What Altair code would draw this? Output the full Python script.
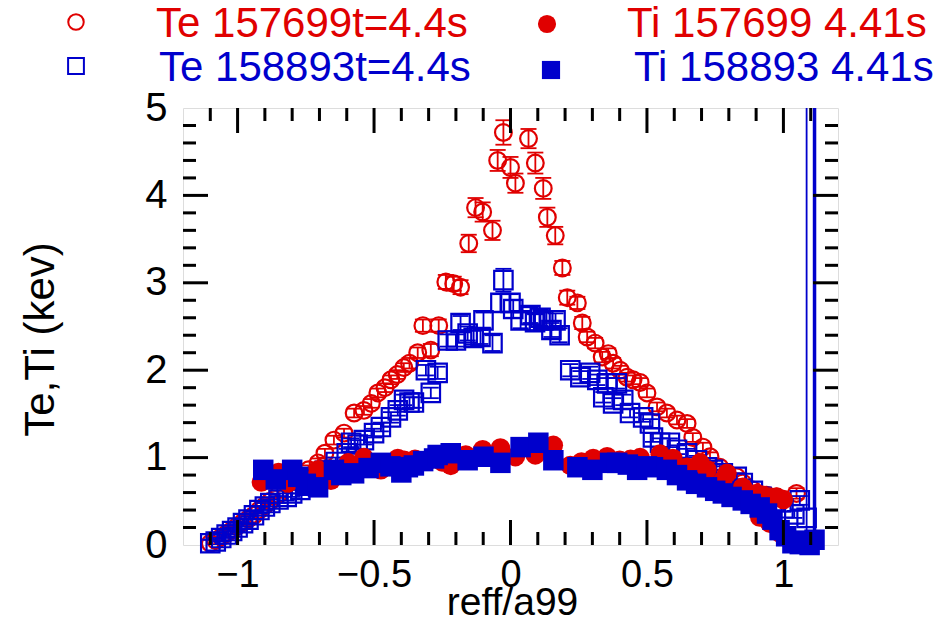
import altair as alt
import pandas as pd

# ---------------- data ----------------
# Te 157699 t=4.4s  (red open circles, with error bars)
te1_x = [-1.10, -1.08, -1.06, -1.04, -1.02, -1.00, -0.98, -0.96, -0.94, -0.92,
         -0.90, -0.88, -0.85, -0.82, -0.78, -0.74, -0.705, -0.68, -0.647, -0.61,
         -0.573, -0.537, -0.51, -0.486, -0.46, -0.438, -0.415, -0.391, -0.37, -0.34,
         -0.321, -0.292, -0.263, -0.237, -0.208, -0.183, -0.153, -0.128, -0.102, -0.066,
         -0.047, -0.026, 0.000, 0.018, 0.066, 0.091, 0.120, 0.135, 0.164, 0.190,
         0.208, 0.245, 0.263, 0.281, 0.310, 0.336, 0.358, 0.376, 0.402, 0.427,
         0.449, 0.475, 0.500, 0.537, 0.573, 0.610, 0.647, 0.668, 0.705, 0.731,
         0.767, 0.793, 0.829, 0.851, 0.888, 0.939, 0.975, 1.048]
te1_y = [0.02, 0.05, 0.09, 0.13, 0.17, 0.22, 0.26, 0.30, 0.34, 0.40,
         0.45, 0.50, 0.58, 0.70, 0.79, 0.86, 0.94, 1.05, 1.20, 1.28,
         1.51, 1.54, 1.62, 1.74, 1.80, 1.89, 1.95, 2.03, 2.08, 2.20,
         2.51, 2.23, 2.51, 3.01, 2.99, 2.95, 3.45, 3.86, 3.81, 3.60,
         4.40, 4.72, 4.32, 4.14, 4.65, 4.37, 4.08, 3.75, 3.54, 3.17,
         2.83, 2.77, 2.54, 2.38, 2.31, 2.15, 2.19, 2.08, 2.00, 1.92,
         1.89, 1.86, 1.74, 1.58, 1.51, 1.43, 1.39, 1.23, 1.12, 1.01,
         0.89, 0.82, 0.78, 0.71, 0.63, 0.57, 0.55, 0.59]
te1_err = [0.04, 0.04, 0.04, 0.04, 0.04, 0.04, 0.04, 0.04, 0.04, 0.04,
           0.04, 0.04, 0.04, 0.05, 0.05, 0.05, 0.05, 0.05, 0.05, 0.05,
           0.05, 0.05, 0.05, 0.05, 0.05, 0.05, 0.05, 0.05, 0.06, 0.06,
           0.07, 0.07, 0.07, 0.08, 0.08, 0.08, 0.10, 0.11, 0.11, 0.11,
           0.12, 0.14, 0.12, 0.11, 0.11, 0.12, 0.12, 0.11, 0.10, 0.08,
           0.08, 0.07, 0.07, 0.06, 0.06, 0.06, 0.06, 0.06, 0.05, 0.05,
           0.05, 0.05, 0.05, 0.05, 0.05, 0.05, 0.05, 0.05, 0.05, 0.05,
           0.04, 0.04, 0.04, 0.04, 0.04, 0.04, 0.04, 0.06]

# Te 158893 t=4.4s  (blue open squares, with error bars)
te2_x = [-1.10, -1.08, -1.06, -1.04, -1.02, -1.00, -0.98, -0.96, -0.94, -0.92,
         -0.90, -0.88, -0.85, -0.82, -0.80, -0.77, -0.75, -0.72, -0.68, -0.64,
         -0.60, -0.584, -0.56, -0.537, -0.50, -0.475, -0.438, -0.413, -0.39, -0.37,
         -0.354, -0.31, -0.292, -0.267, -0.23, -0.20, -0.183, -0.157, -0.135, -0.11,
         -0.099, -0.066, -0.037, -0.026, 0.000, 0.010, 0.037, 0.073, 0.090, 0.110,
         0.120, 0.150, 0.165, 0.180, 0.219, 0.256, 0.292, 0.318, 0.340, 0.354,
         0.376, 0.390, 0.413, 0.438, 0.486, 0.511, 0.522, 0.548, 0.584, 0.610,
         0.647, 0.683, 0.720, 0.742, 0.778, 0.829, 0.851, 0.888, 0.920, 0.960,
         1.000, 1.040, 1.060, 1.085]
te2_y = [0.02, 0.04, 0.08, 0.12, 0.16, 0.20, 0.25, 0.29, 0.34, 0.40,
         0.44, 0.48, 0.52, 0.55, 0.59, 0.63, 0.68, 0.75, 0.85, 0.95,
         1.05, 1.17, 1.15, 1.20, 1.28, 1.35, 1.46, 1.54, 1.66, 1.63,
         1.63, 2.00, 1.74, 1.97, 2.34, 2.34, 2.54, 2.42, 2.37, 2.38,
         2.57, 2.31, 2.77, 3.03, 2.77, 2.70, 2.57, 2.63, 2.55, 2.60,
         2.57, 2.46, 2.57, 2.40, 2.00, 1.92, 1.97, 1.89, 1.69, 1.85,
         1.62, 1.85, 1.66, 1.51, 1.46, 1.39, 1.23, 1.17, 1.17, 1.09,
         1.05, 0.97, 0.89, 0.86, 0.82, 0.78, 0.71, 0.62, 0.55, 0.50,
         0.42, 0.35, 0.51, 0.31]
te2_err = [0.04, 0.04, 0.04, 0.04, 0.04, 0.04, 0.04, 0.04, 0.04, 0.04,
           0.04, 0.04, 0.04, 0.04, 0.04, 0.04, 0.04, 0.04, 0.05, 0.05,
           0.05, 0.05, 0.05, 0.05, 0.05, 0.05, 0.06, 0.06, 0.06, 0.06,
           0.06, 0.06, 0.06, 0.07, 0.07, 0.07, 0.08, 0.08, 0.08, 0.08,
           0.09, 0.09, 0.10, 0.13, 0.10, 0.10, 0.09, 0.09, 0.09, 0.09,
           0.09, 0.08, 0.08, 0.08, 0.07, 0.07, 0.07, 0.06, 0.06, 0.06,
           0.06, 0.06, 0.06, 0.05, 0.05, 0.05, 0.05, 0.05, 0.05, 0.05,
           0.05, 0.05, 0.04, 0.04, 0.04, 0.04, 0.04, 0.04, 0.04, 0.04,
           0.04, 0.04, 0.05, 6.00]

# Ti 157699 4.41s  (red filled circles)
ti1_x = [-0.913, -0.85, -0.815, -0.77, -0.705, -0.658, -0.595, -0.537, -0.475, -0.413,
         -0.39, -0.35, -0.30, -0.25, -0.219, -0.164, -0.102, -0.037, 0.018, 0.091,
         0.157, 0.219, 0.260, 0.303, 0.354, 0.40, 0.44, 0.475, 0.548, 0.595,
         0.647, 0.694, 0.72, 0.778, 0.793, 0.851, 0.902, 0.924, 0.95, 0.975,
         1.00, 0.913, 0.95, 0.986]
ti1_y = [0.72, 0.83, 0.71, 0.78, 0.86, 0.74, 0.94, 1.00, 0.86, 0.99,
         0.97, 0.98, 0.97, 0.95, 0.91, 1.03, 1.09, 1.11, 1.01, 1.03,
         1.14, 0.91, 0.95, 0.99, 1.01, 0.97, 0.98, 1.00, 1.04, 0.99,
         0.89, 0.94, 0.86, 0.74, 0.82, 0.66, 0.59, 0.57, 0.55, 0.55,
         0.52, 0.32, 0.25, 0.14]

# Ti 158893 4.41s  (blue filled squares)
ti2_x = [-0.906, -0.86, -0.80, -0.778, -0.75, -0.705, -0.647, -0.62, -0.573, -0.52,
         -0.475, -0.44, -0.40, -0.376, -0.354, -0.32, -0.28, -0.267, -0.219, -0.157,
         -0.099, -0.037, 0.037, 0.102, 0.157, 0.245, 0.30, 0.365, 0.391, 0.43,
         0.464, 0.50, 0.522, 0.573, 0.61, 0.647, 0.68, 0.72, 0.75, 0.778,
         0.81, 0.851, 0.88, 0.913, 0.94, 0.96, 0.986, 1.01, 1.033, 1.05,
         1.06, 1.08, 1.096, 1.114]
ti2_y = [0.86, 0.75, 0.86, 0.78, 0.70, 0.66, 0.86, 0.80, 0.82, 0.88,
         0.94, 0.90, 0.83, 0.89, 0.91, 0.96, 0.99, 1.03, 1.05, 0.97,
         1.01, 0.94, 1.12, 1.17, 0.97, 0.89, 0.86, 0.94, 0.94, 0.92,
         0.86, 0.90, 0.89, 0.86, 0.80, 0.74, 0.70, 0.66, 0.62, 0.59,
         0.55, 0.51, 0.47, 0.43, 0.36, 0.29, 0.17, 0.10, 0.02, 0.05,
         0.01, 0.02, 0.00, 0.06]
# one Ti 158893 point with an error bar running off the top of the frame
ti2_bar_x = [1.114]
ti2_bar_lo = [0.12]
ti2_bar_hi = [6.0]

# axis ticks and labels
x_major = [-1.0, -0.5, 0.0, 0.5, 1.0]
x_minor = [-1.1, -0.9, -0.8, -0.7, -0.6, -0.4, -0.3, -0.2, -0.1,
           0.1, 0.2, 0.3, 0.4, 0.6, 0.7, 0.8, 0.9, 1.1]
y_major = [1, 2, 3, 4]
y_minor = [0.2, 0.4, 0.6, 0.8, 1.2, 1.4, 1.6, 1.8, 2.2, 2.4, 2.6, 2.8,
           3.2, 3.4, 3.6, 3.8, 4.2, 4.4, 4.6, 4.8]
y_labels = [0, 1, 2, 3, 4, 5]

legend_labels = ["Te 157699t=4.4s", "Ti 157699 4.41s",
                 "Te 158893t=4.4s", "Ti 158893 4.41s"]
x_title = "reff/a99"
y_title = "Te,Ti (kev)"

# ---------------- styling ----------------
W, H = 655, 437
RED = "#e00000"
BLUE = "#0000cc"
FONT = "Liberation Sans"

xs = alt.Scale(domain=[-1.2, 1.2], nice=False, zero=False)
ys = alt.Scale(domain=[0, 5], nice=False, zero=False)

X_AXIS = alt.Axis(values=x_major, format=".1~f", ticks=False, domain=False, grid=False,
                  labelFontSize=38, labelFont=FONT, labelColor="black",
                  labelPadding=11, labelFlush=False,
                  title=x_title, titleFont=FONT, titleFontSize=39,
                  titleFontWeight="normal", titleColor="black",
                  titleX=329, titleY=69, titleAlign="center",
                  titleBaseline="alphabetic")
Y_AXIS = alt.Axis(values=y_labels, ticks=False, domain=False, grid=False,
                  labelFontSize=40, labelFont=FONT, labelColor="black",
                  labelPadding=16, labelFlush=False, format="d",
                  title=y_title, titleFont=FONT, titleFontSize=42,
                  titleFontWeight="normal", titleColor="black",
                  titleX=-143, titleY=231, titleAngle=270, titleAlign="center",
                  titleBaseline="middle")


def X(field="x"):
    return alt.X(f"{field}:Q", scale=xs, axis=X_AXIS, title=x_title)


def Y(field="y"):
    return alt.Y(f"{field}:Q", scale=ys, axis=Y_AXIS, title=y_title)


te1 = pd.DataFrame({"x": te1_x, "y": te1_y, "e": te1_err})
te2 = pd.DataFrame({"x": te2_x, "y": te2_y, "e": te2_err})
ti1 = pd.DataFrame({"x": ti1_x, "y": ti1_y})
ti2 = pd.DataFrame({"x": ti2_x, "y": ti2_y})
ti2b = pd.DataFrame({"x": ti2_bar_x, "lo": ti2_bar_lo, "hi": ti2_bar_hi})


def errbars(df, color, width):
    base = alt.Chart(df).transform_calculate(lo="datum.y - datum.e", hi="datum.y + datum.e")
    bar = base.mark_rule(color=color, strokeWidth=width, clip=True).encode(
        x=X(), y=Y("lo"), y2="hi:Q")
    caps = base.transform_fold(["lo", "hi"], as_=["k", "v"]).mark_tick(
        color=color, orient="horizontal", size=16, thickness=1.8, clip=True, opacity=1).encode(
        x=X(), y=Y("v"))
    return bar + caps


te1_bars = errbars(te1, RED, 1.8)
te1_pts = alt.Chart(te1).mark_point(shape="circle", filled=False, size=280,
                                    strokeWidth=2.2, color=RED, opacity=1).encode(
    x=X(), y=Y())
te2_bars = errbars(te2, BLUE, 1.8)
te2_pts = alt.Chart(te2).mark_point(shape="square", filled=False, size=340,
                                    strokeWidth=2.2, color=BLUE, opacity=1).encode(
    x=X(), y=Y())
ti1_pts = alt.Chart(ti1).mark_point(shape="circle", filled=True, size=380,
                                    color=RED, opacity=1, strokeWidth=0).encode(
    x=X(), y=Y())
ti2_pts = alt.Chart(ti2).mark_point(shape="square", filled=True, size=420,
                                    color=BLUE, opacity=1, strokeWidth=0).encode(
    x=X(), y=Y())
ti2_bar = alt.Chart(ti2b).mark_rule(color=BLUE, strokeWidth=3.5, clip=True).encode(
    x=X(), y=Y("lo"), y2="hi:Q")


# inward ticks on all four sides
def xticks(vals, length):
    d = pd.DataFrame({"x": vals})
    bot = alt.Chart(d).mark_rule(color="black", strokeWidth=3).encode(
        x=X(), y=alt.value(H), y2=alt.value(H - length))
    top = alt.Chart(d).mark_rule(color="black", strokeWidth=3).encode(
        x=X(), y=alt.value(0), y2=alt.value(length))
    return bot + top


def yticks(vals, length):
    d = pd.DataFrame({"y": vals})
    left = alt.Chart(d).mark_rule(color="black", strokeWidth=3).encode(
        y=Y(), x=alt.value(0), x2=alt.value(length))
    right = alt.Chart(d).mark_rule(color="black", strokeWidth=3).encode(
        y=Y(), x=alt.value(W), x2=alt.value(W - length))
    return left + right


ticks = xticks(x_major, 25) + xticks(x_minor, 13) + yticks(y_major, 25) + yticks(y_minor, 13)


# legend drawn as marks above the frame
def leg_text(label, color, px, py):
    return alt.Chart(pd.DataFrame({"t": [label]})).mark_text(
        font=FONT, fontSize=42, color=color, align="left", baseline="middle").encode(
        text="t:N", x=alt.value(px), y=alt.value(py))


def leg_sym(label, shape, filled, color, px, py, size):
    return alt.Chart(pd.DataFrame({"t": [label]})).mark_point(
        shape=shape, filled=filled, color=color, size=size, opacity=1,
        strokeWidth=2 if not filled else 0).encode(x=alt.value(px), y=alt.value(py))


legend = (
    leg_sym(legend_labels[0], "circle", False, RED, -107, -86, 240)
    + leg_text(legend_labels[0], RED, -27, -84)
    + leg_sym(legend_labels[1], "circle", True, RED, 364, -84, 330)
    + leg_text(legend_labels[1], RED, 444, -84)
    + leg_sym(legend_labels[2], "square", False, BLUE, -107, -42, 250)
    + leg_text(legend_labels[2], BLUE, -24, -40)
    + leg_sym(legend_labels[3], "square", True, BLUE, 368, -38, 330)
    + leg_text(legend_labels[3], BLUE, 451, -40)
)

chart = alt.layer(
    te1_pts, te1_bars, te2_bars, te2_pts, ti1_pts, ti2_pts, ti2_bar, ticks, legend
).properties(
    width=W, height=H,
    autosize=alt.AutoSizeParams(type="none"),
    padding={"left": 183, "top": 108, "right": 111, "bottom": 76},
).configure_view(
    stroke="black", strokeWidth=3
).configure(background="white")

chart.save("out.html", embed_options={"renderer": "svg", "actions": False})
